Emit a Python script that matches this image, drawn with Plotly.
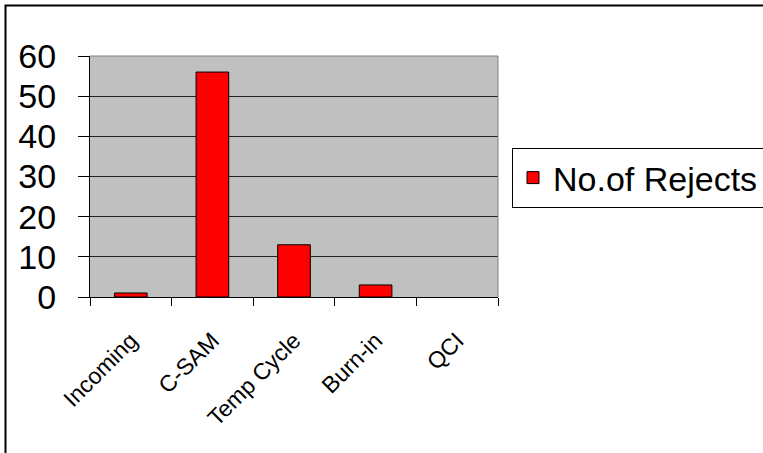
import plotly.graph_objects as go

# Reject counts per process step
stages = ["Incoming", "C-SAM", "Temp Cycle", "Burn-in", "QCI"]
rejects = [1, 56, 13, 3, 0]
y_ticks = [0, 10, 20, 30, 40, 50, 60]
series_name = "No.of Rejects"

W, H = 763, 453
L, R, T, B = 90, 265, 56, 156
pw, ph = W - L - R, H - T - B

def px_x(p):
    return (p - L) / pw

def px_y(p):
    return (H - B - p) / ph

fig = go.Figure()
fig.add_trace(go.Bar(
    x=stages, y=rejects, name=series_name,
    marker=dict(color="#FF0000",
                line=dict(color="#000000", width=[1 if v > 0 else 0 for v in rejects])),
    showlegend=True,
))

font_family = "Liberation Sans, Arial, sans-serif"

fig.update_layout(
    width=W, height=H,
    margin=dict(l=L, r=R, t=T, b=B, autoexpand=False),
    paper_bgcolor="white",
    plot_bgcolor="#C0C0C0",
    bargap=0.6,
    showlegend=True,
    font=dict(family=font_family, color="black"),
    legend=dict(
        x=px_x(512), y=px_y(148), xanchor="left", yanchor="top",
        bordercolor="black", borderwidth=1, bgcolor="white",
        font=dict(size=34, family=font_family),
        itemwidth=30,
    ),
    xaxis=dict(
        type="category",
        tickangle=-45,
        tickfont=dict(size=23, family=font_family),
        ticklabelstandoff=20,
        showline=True, linecolor="black", linewidth=1,
        ticks="outside", ticklen=8, tickcolor="black",
        tickson="boundaries",
        showgrid=False,
        mirror=False,
    ),
    yaxis=dict(
        range=[0, 60],
        tickvals=y_ticks,
        tickfont=dict(size=34, family=font_family),
        ticklabelstandoff=15,
        showline=True, linecolor="black", linewidth=1,
        ticks="outside", ticklen=11, tickcolor="black",
        showgrid=True, gridcolor="#222222", gridwidth=1,
        zeroline=False,
    ),
    shapes=[
        # top and right edges of the plot area
        dict(type="line", xref="paper", yref="paper", x0=0, x1=1, y0=1, y1=1,
             line=dict(color="#808080", width=1)),
        dict(type="line", xref="paper", yref="paper", x0=1, x1=1, y0=0, y1=1,
             line=dict(color="#808080", width=1)),
        # chart frame
        dict(type="rect", xref="paper", yref="paper",
             x0=px_x(5.5), x1=px_x(900), y0=px_y(600), y1=px_y(5.5),
             line=dict(color="black", width=2), layer="below"),
    ],
)

fig.write_html("out.html")
